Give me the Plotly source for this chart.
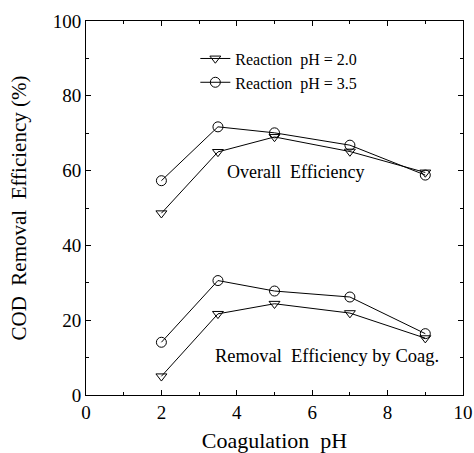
import plotly.graph_objects as go

coag_ph = [2, 3.5, 5, 7, 9]
overall_ph20 = [48.6, 65.0, 69.0, 65.1, 59.5]
overall_ph35 = [57.3, 71.7, 70.1, 66.8, 58.8]
coag_ph20 = [5.0, 21.7, 24.4, 21.9, 15.2]
coag_ph35 = [14.1, 30.6, 27.8, 26.2, 16.4]
series_names = ["Reaction\u00a0\u00a0pH = 2.0", "Reaction\u00a0\u00a0pH = 3.5"]

FONT = "Liberation Serif, Times New Roman, serif"

fig = go.Figure()
tri = dict(symbol="triangle-down-open", size=9.5, color="black", line=dict(width=1, color="black"))
cir = dict(symbol="circle-open", size=10, color="black", line=dict(width=1, color="black"))
line = dict(color="black", width=1)

fig.add_trace(go.Scatter(x=coag_ph, y=overall_ph20, mode="lines+markers", marker=tri, line=line,
                         name=series_names[0], legendgroup="a"))
fig.add_trace(go.Scatter(x=coag_ph, y=overall_ph35, mode="lines+markers", marker=cir, line=line,
                         name=series_names[1], legendgroup="b"))
fig.add_trace(go.Scatter(x=coag_ph, y=coag_ph20, mode="lines+markers", marker=tri, line=line,
                         showlegend=False, legendgroup="a"))
fig.add_trace(go.Scatter(x=coag_ph, y=coag_ph35, mode="lines+markers", marker=cir, line=line,
                         showlegend=False, legendgroup="b"))

fig.add_annotation(x=5.57, y=59.5, text="Overall\u00a0\u00a0Efficiency", showarrow=False,
                   font=dict(size=18, family=FONT, color="black"))
fig.add_annotation(x=6.4, y=10.4, text="Removal\u00a0\u00a0Efficiency by Coag.", showarrow=False,
                   font=dict(size=18.5, family=FONT, color="black"))

axis_common = dict(showgrid=False, zeroline=False, showline=True, linecolor="black", linewidth=1,
                   mirror="ticks", ticks="inside", ticklen=5, tickwidth=1, tickcolor="black",
                   automargin=False,
                   tickfont=dict(size=19, family=FONT, color="black"))
fig.update_xaxes(range=[0, 10], dtick=2, tick0=0,
                 minor=dict(dtick=1, ticks="inside", ticklen=3, tickcolor="black"),
                 title=dict(text="Coagulation\u00a0\u00a0pH", font=dict(size=22, family=FONT, color="black"), standoff=18),
                 **axis_common)
fig.update_yaxes(range=[0, 100], dtick=20, tick0=0,
                 minor=dict(dtick=10, ticks="inside", ticklen=3, tickcolor="black"),
                 title=dict(text="COD\u00a0\u00a0Removal\u00a0\u00a0Efficiency\u00a0(%)", font=dict(size=21, family=FONT, color="black"), standoff=20),
                 **axis_common)

fig.update_layout(
    width=474, height=453,
    margin=dict(l=86, r=11, t=21, b=58),
    plot_bgcolor="white", paper_bgcolor="white",
    showlegend=True,
    legend=dict(x=0.29, y=0.945, xanchor="left", yanchor="top", bgcolor="rgba(0,0,0,0)",
                font=dict(size=16, family=FONT, color="black"), tracegroupgap=0),
)

fig.write_html("out.html")
